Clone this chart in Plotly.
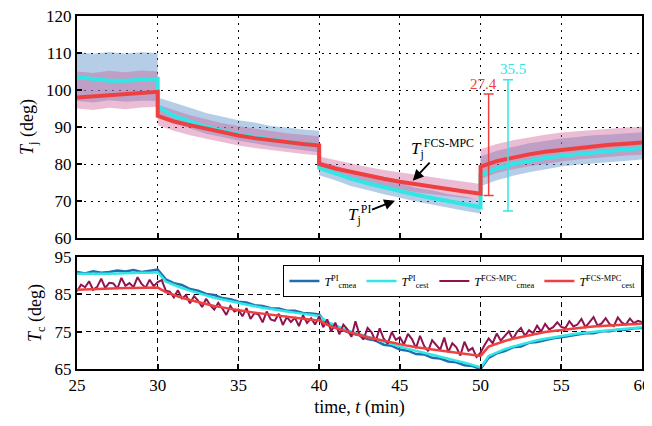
import plotly.graph_objects as go

# ---------------- top panel data (Tj) ----------------
t_top = [25, 26, 27, 28, 29, 30,
         30, 31, 32, 33, 34, 35, 36, 37, 38, 39, 40,
         40, 41, 42, 43, 44, 45, 46, 47, 48, 49, 50,
         50, 51, 52, 53, 54, 55, 56, 57, 58, 59, 60]
tj_pi = [103.5, 103.0, 102.5, 102.5, 102.8, 103.0,
         95.5, 93.0, 91.5, 90.0, 89.0, 88.0, 87.3, 86.6, 86.0, 85.5, 85.0,
         79.0, 77.5, 76.0, 74.8, 73.7, 72.7, 71.7, 70.8, 70.0, 69.1, 68.3,
         77.0, 78.8, 80.0, 80.9, 81.6, 82.2, 82.7, 83.1, 83.5, 83.9, 84.3]
tj_fcs = [98.0, 98.3, 98.5, 98.8, 99.2, 99.5,
          93.0, 91.5, 90.5, 89.5, 88.5, 87.7, 87.0, 86.4, 85.9, 85.4, 85.0,
          80.0, 78.8, 77.8, 76.8, 76.0, 75.2, 74.5, 73.8, 73.2, 72.6, 72.0,
          79.3, 80.8, 81.8, 82.6, 83.3, 83.8, 84.3, 84.8, 85.2, 85.5, 85.8]
pi_hi = [110.2, 109.8, 110.3, 109.9, 110.2, 110.0,
         98.0, 96.5, 95.2, 93.8, 92.9, 91.8, 91.2, 90.3, 89.9, 89.3, 89.0,
         80.8, 79.6, 78.0, 77.0, 75.6, 74.8, 73.6, 72.9, 71.8, 71.2, 70.3,
         82.0, 83.6, 84.6, 85.6, 86.2, 86.9, 87.3, 87.8, 88.0, 88.4, 88.6]
pi_lo = [97.0, 96.6, 97.2, 96.8, 97.1, 97.0,
         93.0, 91.0, 89.6, 88.2, 87.3, 86.3, 85.6, 84.8, 84.3, 83.7, 83.2,
         77.0, 75.6, 74.0, 73.0, 71.8, 70.9, 69.9, 69.1, 68.2, 67.4, 66.6,
         74.0, 75.6, 76.8, 77.8, 78.6, 79.3, 79.8, 80.3, 80.6, 80.9, 81.2]
fcs_hi = [105.0, 104.6, 105.2, 104.8, 105.3, 105.0,
          96.0, 94.6, 93.2, 92.1, 91.0, 90.3, 89.5, 88.9, 88.3, 87.9, 87.5,
          82.0, 81.0, 80.0, 79.2, 78.4, 77.7, 77.0, 76.4, 75.8, 75.2, 74.6,
          84.0, 85.4, 86.4, 87.2, 87.9, 88.5, 88.9, 89.3, 89.6, 89.9, 90.1]
fcs_lo = [95.0, 94.6, 95.2, 94.8, 95.3, 95.5,
          90.5, 89.0, 87.8, 86.8, 85.8, 85.0, 84.3, 83.7, 83.2, 82.7, 82.3,
          78.5, 77.0, 75.8, 74.8, 73.9, 73.1, 72.4, 71.8, 71.2, 70.8, 70.4,
          76.0, 77.6, 78.6, 79.4, 80.1, 80.7, 81.2, 81.6, 82.0, 82.3, 82.5]

# ripple bars (x position, low, high, label)
bar_t = [50.5, 51.7]
bar_lo = [71.5, 67.3]
bar_hi = [98.9, 102.8]
bar_lbl = ["27.4", "35.5"]

# ---------------- bottom panel data (Tc) ----------------
t_half = [25 + 0.5 * i for i in range(71)]
tc_pi_est = [90.5, 90.5, 90.3, 90.4, 90.5, 90.6, 90.7, 90.7, 90.8, 90.8, 90.9,
             88.4, 87.5, 86.7, 86.0, 85.3, 84.7, 84.1, 83.6, 83.1, 82.6,
             82.2, 81.8, 81.4, 81.0, 80.7, 80.4, 80.1, 79.8, 79.5, 79.2,
             77.6, 76.6, 75.8, 75.0, 74.3, 73.6, 72.9, 72.2, 71.6, 71.0,
             70.4, 69.8, 69.3, 68.8, 68.3, 67.8, 67.3, 66.7, 66.1, 65.4,
             68.5, 69.5, 70.3, 71.0, 71.6, 72.2, 72.7, 73.1, 73.5, 73.9,
             74.2, 74.5, 74.8, 75.0, 75.2, 75.4, 75.6, 75.8, 76.0, 76.2]
tc_fcs_est = [86.2, 86.3, 86.4, 86.5, 86.6, 86.6, 86.7, 86.7, 86.8, 86.8, 86.8,
              85.6, 84.8, 84.1, 83.5, 82.9, 82.4, 81.9, 81.5, 81.1, 80.8,
              80.4, 80.1, 79.8, 79.5, 79.2, 78.9, 78.6, 78.4, 78.2, 78.0,
              76.8, 76.0, 75.3, 74.7, 74.1, 73.5, 73.0, 72.5, 72.0, 71.6,
              71.2, 70.8, 70.5, 70.2, 69.9, 69.6, 69.3, 69.0, 68.8, 68.5,
              71.0, 71.8, 72.5, 73.1, 73.6, 74.1, 74.5, 74.9, 75.2, 75.5,
              75.8, 76.0, 76.2, 76.4, 76.6, 76.7, 76.8, 76.9, 77.0, 77.1]
tc_pi_mea = [91.0, 90.6, 91.2, 90.8, 91.0, 91.4, 91.1, 91.5, 91.0, 91.4, 91.6,
             89.0, 88.0, 87.5, 86.4, 86.0, 85.1, 84.8, 84.0, 83.7, 83.0,
             82.8, 82.1, 81.9, 81.3, 81.2, 80.6, 80.6, 80.0, 79.9, 79.6,
             77.0, 76.2, 75.5, 74.5, 74.0, 73.0, 72.6, 71.5, 71.2, 70.2,
             69.9, 69.0, 68.9, 68.0, 67.8, 67.0, 66.8, 66.0, 65.8, 65.0,
             68.0, 69.2, 69.8, 70.8, 71.0, 72.0, 72.2, 72.8, 73.2, 73.5,
             73.9, 74.1, 74.6, 74.6, 75.1, 75.1, 75.5, 75.5, 75.9, 76.0]
t_quarter = [25 + 0.25 * i for i in range(141)]
tc_fcs_mea = [85.8, 87.6, 86.9, 88.5, 86.2, 87.0, 89.2, 86.7, 88.1, 87.9, 86.5,
              89.4, 87.3, 88.0, 86.9, 89.6, 87.8, 86.8, 88.9, 87.2, 88.3,
              88.8, 86.0, 85.7, 84.2, 86.1, 83.9, 84.8, 82.6, 84.5, 83.3,
              81.6, 83.8, 82.1, 80.9, 82.7, 81.2, 79.5, 81.9, 80.4, 80.9,
              79.1, 81.3, 78.4, 80.0, 79.6, 77.5, 80.4, 78.3, 77.9, 79.8,
              76.8, 78.9, 77.6, 78.7, 76.5, 79.4, 77.3, 78.6, 76.9, 79.1,
              76.2, 78.3, 75.0, 77.4, 74.3, 76.9, 75.6, 73.6, 77.8, 74.2,
              72.9, 76.0, 74.8, 72.4, 75.9, 73.1, 71.8, 74.9, 72.8, 73.5,
              71.6, 74.4, 73.0, 70.6, 73.9, 71.2, 69.8, 72.7, 71.5, 70.2,
              73.4, 69.5, 71.9, 70.8, 68.6, 72.3, 69.9, 70.6, 68.2, 69.4,
              71.4, 73.2, 71.9, 74.5, 72.6, 73.8, 75.1, 73.0, 74.9, 76.0,
              73.9, 75.4, 74.6, 76.6, 75.0, 77.1, 75.6, 76.2, 77.5, 76.3,
              75.9, 77.8, 76.4, 76.9, 78.4, 76.2, 77.7, 78.9, 76.6, 77.2,
              78.6, 77.0, 76.5, 78.8, 77.4, 76.9, 78.5, 77.3, 77.9, 77.6]

x_ticks = [25, 30, 35, 40, 45, 50, 55, 60]
y_top_ticks = [60, 70, 80, 90, 100, 110, 120]
y_bot_ticks = [65, 75, 85, 95]

C_CYAN = "#33e6e6"
C_RED = "#ee4040"
C_BLUE = "#1f6fae"
C_MAG = "#8e1450"
FONT = "Liberation Serif"

fig = go.Figure()

# bands
fig.add_trace(go.Scatter(x=t_top + t_top[::-1], y=pi_hi + pi_lo[::-1], fill="toself",
                         fillcolor="rgba(90,145,200,0.45)", line=dict(width=0),
                         showlegend=False, hoverinfo="skip", xaxis="x", yaxis="y"))
fig.add_trace(go.Scatter(x=t_top + t_top[::-1], y=fcs_hi + fcs_lo[::-1], fill="toself",
                         fillcolor="rgba(205,90,150,0.40)", line=dict(width=0),
                         showlegend=False, hoverinfo="skip", xaxis="x", yaxis="y"))
fig.add_trace(go.Scatter(x=t_top, y=tj_pi, mode="lines", line=dict(color=C_CYAN, width=4),
                         showlegend=False, xaxis="x", yaxis="y"))
fig.add_trace(go.Scatter(x=t_top, y=tj_fcs, mode="lines", line=dict(color=C_RED, width=4),
                         showlegend=False, xaxis="x", yaxis="y"))

# ripple bars
bar_cols = [C_RED, C_CYAN]
for i in range(2):
    fig.add_trace(go.Scatter(x=[bar_t[i]], y=[bar_lo[i]], mode="markers",
                             marker=dict(size=1, color="rgba(0,0,0,0)"),
                             error_y=dict(type="data", symmetric=False,
                                          array=[bar_hi[i] - bar_lo[i]], arrayminus=[0],
                                          color=bar_cols[i], thickness=1.5, width=5),
                             showlegend=False, xaxis="x", yaxis="y"))
    fig.add_annotation(x=bar_t[i] - 0.3 + 0.6 * i, y=bar_hi[i] + (2.8 if i == 0 else 3.0),
                       text=bar_lbl[i], showarrow=False, xref="x", yref="y",
                       font=dict(family=FONT, size=15, color=bar_cols[i]))

# bottom traces
fig.add_trace(go.Scatter(x=t_half, y=tc_pi_mea, mode="lines", line=dict(color=C_BLUE, width=2.5),
                         name="<i>T</i><sup>PI</sup><sub>cmea</sub>", xaxis="x2", yaxis="y2"))
fig.add_trace(go.Scatter(x=t_half, y=tc_pi_est, mode="lines", line=dict(color=C_CYAN, width=2.5),
                         name="<i>T</i><sup>PI</sup><sub>cest</sub>", xaxis="x2", yaxis="y2"))
fig.add_trace(go.Scatter(x=t_quarter, y=tc_fcs_mea, mode="lines", line=dict(color=C_MAG, width=2),
                         name="<i>T</i><sup>FCS-MPC</sup><sub>cmea</sub>", xaxis="x2", yaxis="y2"))
fig.add_trace(go.Scatter(x=t_half, y=tc_fcs_est, mode="lines", line=dict(color=C_RED, width=2.5),
                         name="<i>T</i><sup>FCS-MPC</sup><sub>cest</sub>", xaxis="x2", yaxis="y2"))

# arrow labels
fig.add_annotation(x=45.8, y=75.5, xref="x", yref="y", ax=30, ay=-32,
                   text="<i>T</i><sub>j</sub><sup>FCS-MPC</sup>", showarrow=True,
                   arrowhead=2, arrowsize=1.2, arrowwidth=1.8, arrowcolor="black",
                   font=dict(family=FONT, size=17, color="black"))
fig.add_annotation(x=44.7, y=70.1, xref="x", yref="y", ax=-36, ay=14,
                   text="<i>T</i><sub>j</sub><sup>PI</sup>", showarrow=True,
                   arrowhead=2, arrowsize=1.2, arrowwidth=1.8, arrowcolor="black",
                   font=dict(family=FONT, size=17, color="black"))

axis_common = dict(showline=True, mirror=True, linecolor="black", linewidth=2,
                   ticks="inside", ticklen=5, tickwidth=1.5, tickcolor="black",
                   tickfont=dict(family=FONT, size=17, color="black"),
                   gridcolor="black", gridwidth=1.3, zeroline=False, automargin=False,
                   ticklabeloverflow="allow")

# the page body adds an 8 px offset; the figure is sized to end at the window edge
fig.update_layout(
    width=644, height=418,
    margin=dict(l=69, r=10, t=8, b=57, autoexpand=False),
    paper_bgcolor="white", plot_bgcolor="white",
    xaxis=dict(domain=[0, 1], range=[25, 60], tickvals=x_ticks, showticklabels=False,
               anchor="y", griddash="2px,5px", **axis_common),
    yaxis=dict(domain=[0.371, 1.0], range=[60, 120], tickvals=y_top_ticks, anchor="x",
               griddash="2px,5px",
               title=dict(text="<i>T</i><sub>j</sub> (deg)", font=dict(family=FONT, size=18, color="black"),
                          standoff=8),
               **axis_common),
    xaxis2=dict(domain=[0, 1], range=[25, 60], tickvals=x_ticks, anchor="y2", matches="x",
                griddash="5px,4px",
                title=dict(text="time, <i>t</i> (min)", font=dict(family=FONT, size=18, color="black"),
                           standoff=6),
                **axis_common),
    yaxis2=dict(domain=[0, 0.3173], range=[65, 95], tickvals=y_bot_ticks, anchor="x2",
                griddash="5px,4px",
                title=dict(text="<i>T</i><sub>c</sub> (deg)", font=dict(family=FONT, size=18, color="black"),
                           standoff=8),
                **axis_common),
    legend=dict(orientation="h", x=0.365, y=0.294, xanchor="left", yanchor="top",
                bgcolor="white", bordercolor="black", borderwidth=1.2,
                font=dict(family=FONT, size=12, color="black"),
                itemwidth=30, tracegroupgap=0),
    showlegend=True,
)

fig.write_html("out.html")
